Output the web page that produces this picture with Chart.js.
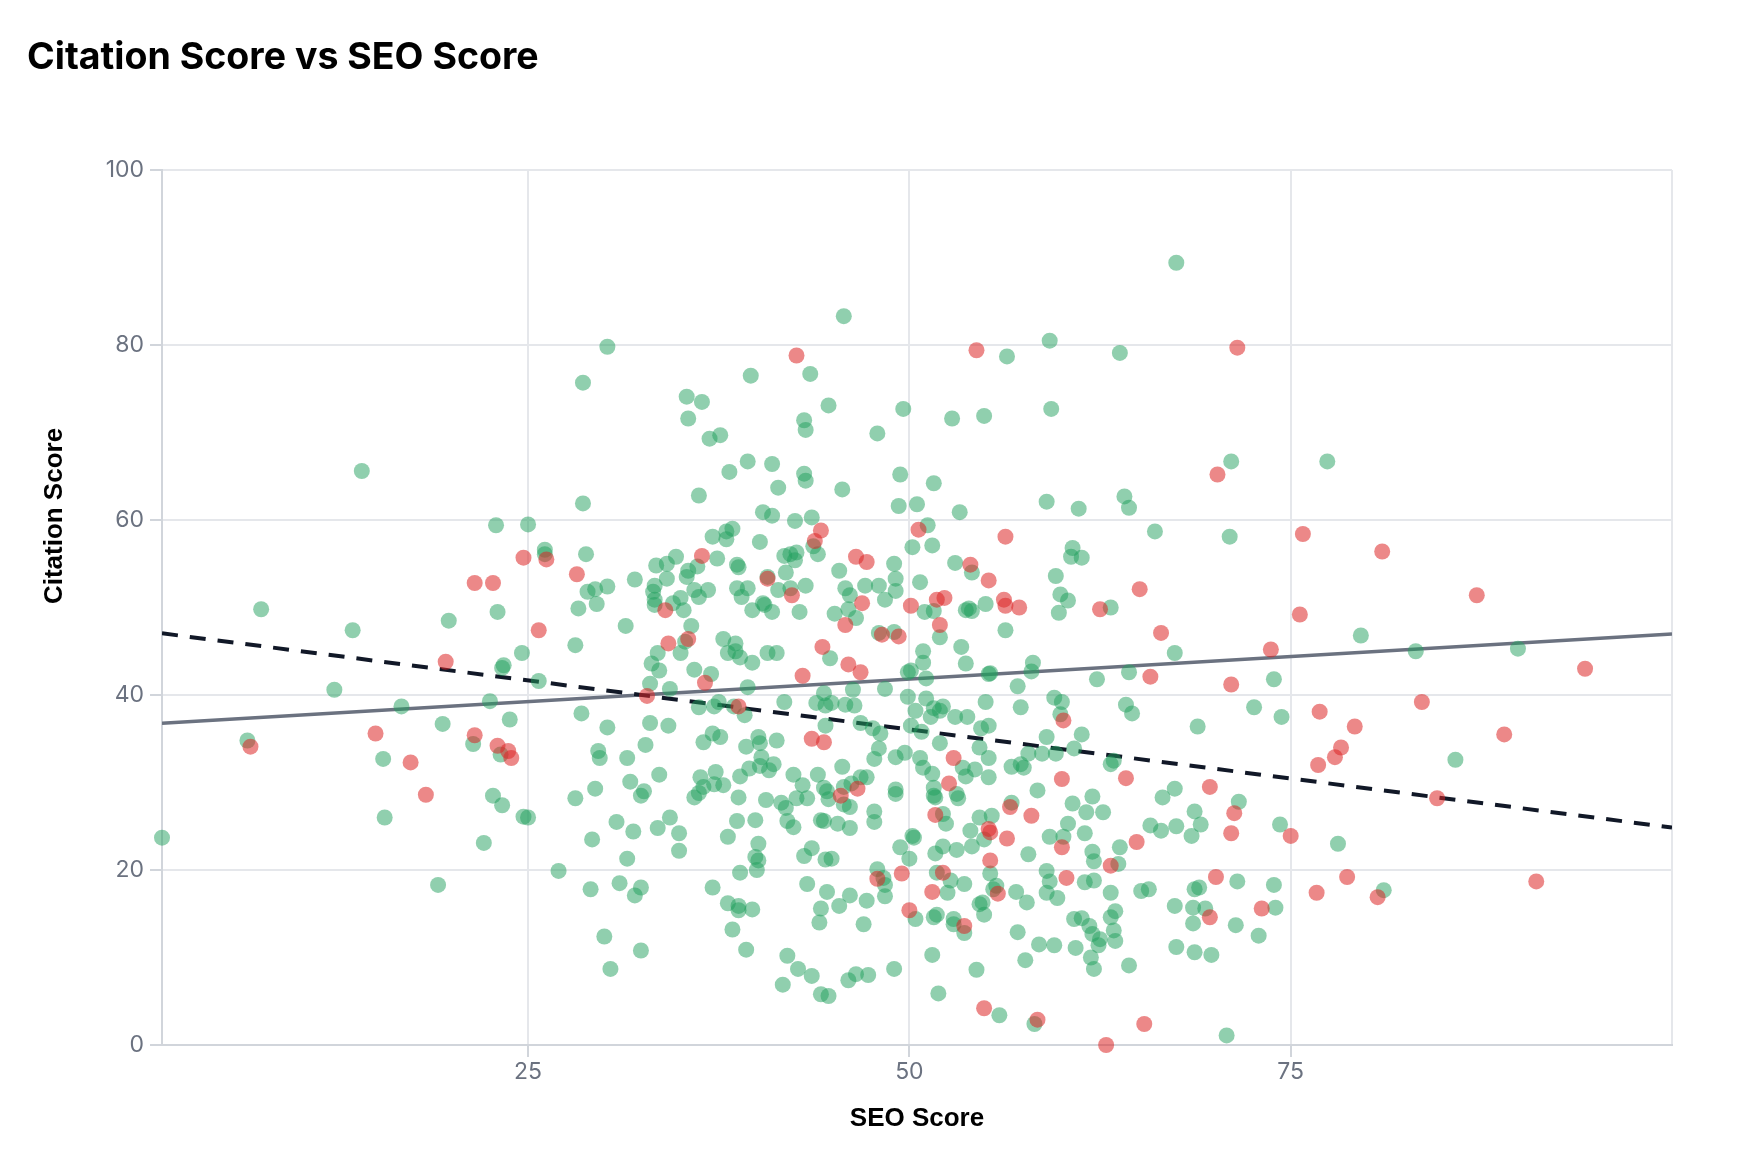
<!DOCTYPE html>
<html>
<head>
<meta charset="utf-8">
<title>Citation Score vs SEO Score</title>
<script src="https://cdn.jsdelivr.net/npm/chart.js@4.4.1/dist/chart.umd.min.js"></script>
<style>
    html, body { margin: 0; padding: 0; background: #fff; }
    #chart { display: block; }
</style>
</head>
<body>
<canvas id="chart" width="1748" height="1174"></canvas>
<script>
const chartTitle = "Citation Score vs SEO Score";
const xTitle = "SEO Score";
const yTitle = "Citation Score";

const xTickValues = [25, 50, 75, 100];
const yTickStep = 20;
const xMax = 100;
const yMin = 0;
const yMax = 100;

// [SEO score, citation score]
const greenPoints = [
    [30.2,79.8],[28.6,75.7],
    [45.7,83.3],[39.6,76.5],[43.5,76.7],[35.4,74.1],[36.4,73.5],[35.5,71.6],[44.7,73.1],[43.1,71.4],[43.2,70.3],[37.6,69.7],
    [36.9,69.3],[47.9,69.9],[49.6,72.7],[52.8,71.6],[54.9,71.9],[59.3,72.7],[56.4,78.7],[59.2,80.5],[63.8,79.1],[67.5,89.4],
    [14.1,65.6],[28.6,61.9],[22.9,59.4],[25.0,59.5],[26.1,56.6],[26.1,56.1],[28.8,56.1],[32.0,53.2],[33.4,54.8],[34.1,55.0],
    [34.1,53.3],[30.2,52.4],[29.4,52.1],[28.9,51.8],[33.3,52.5],[33.2,51.8],[33.3,50.9],[33.3,50.3],[29.5,50.4],[28.3,49.9],
    [23.0,49.5],[19.8,48.5],[7.5,49.8],[13.5,47.4],[31.4,47.9],[28.1,45.7],[24.6,44.8],[23.4,43.4],[23.3,43.1],[33.5,44.8],
    [33.1,43.6],[33.6,42.8],[25.7,41.6],[33.0,41.3],[34.3,40.7],[34.2,36.5],[12.3,40.6],[16.7,38.7],[22.5,39.3],[23.8,37.2],
    [19.4,36.7],[28.5,37.9],[30.2,36.3],[33.0,36.8],[32.7,34.3],[6.6,34.8],[21.4,34.4],[29.6,33.6],
    [39.4,66.7],[41.0,66.4],[38.2,65.5],[43.1,65.3],[43.2,64.5],[36.2,62.8],[41.4,63.7],[45.6,63.5],[49.4,65.2],[51.6,64.2],
    [49.3,61.6],[50.5,61.8],[53.3,60.9],[59.0,62.1],[61.1,61.3],[64.1,62.7],[64.4,61.4],[40.4,60.9],[41.0,60.5],[42.5,59.9],
    [43.6,60.3],[66.1,58.7],[43.7,57.0],[44.0,56.1],[51.2,59.4],[50.2,56.9],[51.5,57.1],[60.7,56.8],[60.6,55.8],[61.3,55.7],
    [38.4,59.0],[38.0,58.7],[38.0,57.8],[37.1,58.1],[40.2,57.5],[34.7,55.8],[37.4,55.6],[38.7,54.9],[38.8,54.6],[36.1,54.7],
    [35.5,54.2],[35.4,53.5],[41.8,55.9],[42.2,56.1],[42.6,56.3],[42.5,55.4],[41.9,54.0],[40.7,53.5],[45.4,54.2],[49.0,55.0],
    [49.1,53.3],[53.0,55.1],[54.1,54.0],[59.6,53.6],[35.9,52.0],[36.2,51.2],[36.8,52.0],[35.0,51.1],[34.5,50.5],[35.2,49.7],
    [38.7,52.2],[39.4,52.2],[39.0,51.2],[40.4,50.5],[40.5,50.3],[39.7,49.7],[41.0,49.5],[41.4,52.0],[42.2,52.2],[43.2,52.5],
    [42.8,49.5],[45.8,52.2],[46.1,51.4],[47.1,52.5],[48.0,52.5],[49.1,51.9],[48.4,50.9],[46.0,49.8],[45.1,49.3],[46.5,48.8],
    [50.7,52.9],[51.0,49.5],[51.6,49.6],[52.0,46.6],[53.7,49.7],[54.1,49.6],[53.9,49.9],[55.0,50.4],[56.3,47.4],[59.9,51.5],
    [60.4,50.8],[59.8,49.4],[63.2,50.0],[67.4,44.8],[35.7,47.9],[35.3,46.1],[35.0,44.8],[37.8,46.4],[38.6,45.9],[38.1,44.8],
    [38.6,45.0],[38.9,44.3],[39.7,43.7],[40.7,44.8],[41.3,44.8],[44.8,44.2],[48.0,47.1],[49.0,47.2],[50.9,45.0],[50.9,43.7],
    [53.4,45.5],[53.7,43.6],[35.9,42.9],[37.0,42.4],[39.4,40.9],[49.9,42.6],[50.1,42.8],[51.1,41.9],[55.2,42.4],[55.3,42.5],
    [58.1,43.7],[58.0,42.7],[57.1,41.0],[62.3,41.8],[64.4,42.6],[46.3,40.6],[48.4,40.7],[36.2,38.6],[37.2,38.7],[37.5,39.2],
    [38.5,38.7],[39.2,37.7],[41.8,39.2],[43.9,39.1],[44.4,40.2],[44.5,38.8],[44.9,39.1],[45.8,38.9],[46.4,38.8],[49.9,39.8],
    [51.1,39.6],[50.4,38.2],[51.6,38.5],[51.4,37.5],[52.0,38.2],[52.2,38.7],[53.0,37.5],[53.8,37.5],[55.0,39.2],[57.3,38.6],
    [59.5,39.7],[60.0,39.2],[59.9,37.8],[64.2,38.9],[64.6,37.9],[46.8,36.8],[47.6,36.2],[48.1,35.6],[44.5,36.5],[50.1,36.5],
    [50.8,35.8],[54.7,36.2],[55.2,36.5],[59.0,35.2],[61.3,35.5],[37.1,35.6],[37.6,35.2],[36.5,34.6],[40.1,35.2],[40.2,34.5],
    [39.3,34.1],[41.3,34.8],[52.0,34.5],[54.6,34.0],[60.8,33.9],[48.0,33.9],
    [71.1,66.7],[77.4,66.7],[71.0,58.1],[79.6,46.8],[83.2,45.0],[89.9,45.3],[73.9,41.8],[72.6,38.6],[74.4,37.5],[68.9,36.4],
    [15.5,32.7],[15.6,26.0],[1.0,23.7],[22.1,23.1],[22.7,28.5],[23.3,27.4],[24.7,26.1],[25.0,26.0],[23.2,33.2],[27.0,19.9],
    [19.1,18.3],[28.1,28.2],[29.4,29.3],[29.7,32.8],[31.5,32.8],[31.7,30.1],[32.6,29.0],[32.4,28.5],[33.6,30.9],[30.8,25.5],
    [31.9,24.4],[33.5,24.8],[29.2,23.5],[31.5,21.3],[29.1,17.8],[31.0,18.5],[32.4,18.0],[32.0,17.1],[30.0,12.4],[32.4,10.8],
    [30.4,8.7],
    [39.5,31.6],[40.3,32.9],[40.2,31.9],[41.1,32.1],[40.8,31.4],[37.3,31.2],[36.3,30.6],[38.9,30.7],[36.5,29.5],[37.8,29.7],
    [37.2,29.8],[35.9,28.3],[36.2,28.8],[38.8,28.3],[34.3,26.0],[34.9,24.2],[34.9,22.2],[38.7,25.6],[39.9,25.7],[38.1,23.8],
    [40.1,23.0],[39.9,21.5],[40.1,21.1],[40.0,20.0],[38.9,19.7],[37.1,18.0],[38.1,16.2],[38.8,15.9],[38.8,15.4],[39.7,15.5],
    [38.4,13.2],[39.3,10.9],[40.6,28.0],[41.6,27.7],[41.9,27.1],[42.4,30.9],[43.0,29.7],[42.6,28.2],[43.3,28.2],[42.0,25.6],
    [42.4,24.9],[44.0,30.9],[44.4,29.4],[44.6,29.0],[44.7,28.1],[45.6,31.8],[45.7,29.5],[46.2,29.9],[46.8,30.6],[47.2,30.6],
    [45.7,27.5],[46.1,27.2],[44.2,25.7],[44.4,25.6],[45.3,25.3],[46.1,24.8],[47.7,26.7],[47.7,25.5],[47.7,32.7],[49.1,32.9],
    [49.7,33.4],[49.1,29.2],[49.1,28.7],[43.6,22.5],[43.1,21.6],[44.5,21.2],[44.9,21.3],[43.3,18.4],[44.6,17.5],[46.1,17.1],
    [44.2,15.6],[45.4,15.9],[44.1,14.0],[47.2,16.5],[47.0,13.8],[47.9,20.1],[48.3,19.1],[48.4,18.3],[48.4,17.0],[49.4,22.6],
    [50.2,23.9],[50.3,23.7],[50.0,21.3],[42.0,10.2],[42.7,8.7],[43.6,7.9],[41.7,6.9],[44.2,5.8],[44.7,5.6],[46.0,7.4],
    [46.5,8.1],[47.3,8.0],[49.0,8.7],[50.4,14.4],[50.7,32.8],[50.9,31.7],[51.5,31.0],[51.6,29.4],[51.6,28.5],[51.7,28.3],
    [53.1,28.7],[53.2,28.2],[53.5,31.7],[53.7,30.7],[54.3,31.5],[55.2,32.8],[55.2,30.6],[52.2,26.4],[52.4,25.3],[51.7,21.9],
    [52.2,22.7],[53.1,22.3],[51.8,19.7],[52.7,18.8],[52.5,17.4],[53.6,18.4],[51.6,14.6],[51.8,14.9],[52.9,14.4],[52.9,13.8],
    [53.6,12.8],[51.5,10.3],[54.4,8.6],[51.9,5.9],[55.9,3.4],[58.2,2.4],[54.0,24.5],[54.1,22.7],[54.6,26.0],[55.4,26.2],
    [54.9,23.5],[55.3,19.6],[55.7,18.2],[55.5,17.8],[54.6,16.1],[54.8,16.3],[54.9,14.9],[56.7,27.7],[58.4,29.1],[56.7,31.8],
    [57.3,32.1],[57.5,31.7],[57.8,33.3],[58.7,33.3],[59.6,33.3],[63.4,32.5],[63.2,32.1],[60.7,27.6],[61.6,26.6],[62.0,28.4],
    [62.7,26.6],[60.4,25.3],[59.2,23.8],[60.1,23.8],[61.5,24.2],[57.8,21.8],[62.0,22.1],[62.1,21.0],[63.8,22.6],[63.7,20.7],
    [65.8,25.1],[66.5,24.5],[66.6,28.3],[67.5,25.0],[59.0,19.9],[59.2,18.7],[59.0,17.4],[59.7,16.8],[61.5,18.6],[62.1,18.8],
    [63.2,17.4],[57.0,17.5],[57.7,16.3],[57.1,12.9],[58.5,11.5],[59.5,11.4],[57.6,9.7],[60.9,11.1],[60.8,14.4],[61.3,14.5],
    [61.8,13.6],[62.0,12.7],[62.5,12.1],[62.4,11.4],[61.9,10.0],[62.1,8.7],[63.2,14.6],[63.5,15.3],[63.4,13.1],[63.5,11.9],
    [64.4,9.1],[65.2,17.6],[65.7,17.8],[67.4,15.9],[67.5,11.2],[67.4,29.3],
    [85.8,32.6],[71.6,27.8],[68.7,26.7],[69.1,25.2],[68.5,23.9],[74.3,25.2],[78.1,23.0],[71.5,18.7],[73.9,18.3],[68.7,17.8],
    [69.0,18.0],[68.6,15.7],[69.4,15.6],[68.6,13.9],[71.4,13.7],[74.0,15.7],[72.9,12.5],[68.7,10.6],[69.8,10.3],[70.8,1.1],
    [81.1,17.7]
];

const redPoints = [
    [42.6,78.8],[54.4,79.4],[71.5,79.7],
    [26.2,55.5],[24.7,55.7],[28.2,53.8],[21.5,52.8],[22.7,52.8],[34.0,49.7],[25.7,47.4],[19.6,43.8],[34.2,45.9],
    [32.8,39.9],[15.0,35.6],[6.8,34.1],[21.5,35.4],[23.0,34.2],[23.7,33.6],
    [44.2,58.8],[43.8,57.6],[50.6,58.9],[56.3,58.1],[36.4,55.9],[40.7,53.3],[46.5,55.8],[47.2,55.2],[54.0,54.9],[55.2,53.1],
    [42.3,51.4],[46.9,50.5],[45.8,48.0],[50.1,50.2],[51.8,50.9],[52.3,51.1],[52.0,48.0],[56.2,50.9],[56.3,50.2],[57.2,50.0],
    [62.5,49.8],[65.1,52.1],[66.5,47.1],[35.5,46.4],[44.3,45.5],[48.2,46.9],[49.3,46.7],[46.0,43.5],[46.8,42.6],[36.6,41.4],
    [43.0,42.2],[65.8,42.1],[38.8,38.7],[60.1,37.1],[43.6,35.0],[44.4,34.6],
    [70.2,65.2],[75.8,58.4],[81.0,56.4],[87.2,51.4],[75.6,49.2],[73.7,45.2],[94.3,43.0],[71.1,41.2],[83.6,39.2],[76.9,38.1],
    [79.2,36.4],[89.0,35.5],[78.3,34.0],
    [17.3,32.3],[18.3,28.6],[23.9,32.8],
    [45.5,28.5],[46.6,29.3],[47.9,19.0],[49.5,19.6],[50.0,15.4],[52.6,29.9],[52.9,32.8],[51.7,26.3],[52.2,19.7],[51.5,17.5],
    [53.6,13.6],[54.9,4.2],[58.4,2.9],[62.9,0.0],[65.4,2.4],[55.2,24.7],[55.3,24.3],[56.4,23.6],[55.3,21.1],[55.8,17.3],
    [56.6,27.2],[58.0,26.2],[60.0,30.4],[64.2,30.5],[60.0,22.6],[63.2,20.5],[64.9,23.2],[60.3,19.1],
    [76.8,32.0],[77.9,32.9],[84.6,28.2],[69.7,29.5],[71.3,26.5],[71.1,24.2],[75.0,23.9],[70.1,19.2],[69.7,14.6],[73.1,15.6],
    [78.7,19.2],[76.7,17.4],[80.7,16.9],[91.1,18.7]
];

// trend lines: [intercept, slope]
const solidTrend = [36.66, 0.1031];
const dashedTrend = [47.27, -0.2242];

const xMin = Math.min(...greenPoints.map(p => p[0]), ...redPoints.map(p => p[0]));

function toXY(list) {
    return list.map(p => ({ x: p[0], y: p[1] }));
}

function trendData(t) {
    return [xMin, xMax].map(x => ({ x: x, y: t[0] + t[1] * x }));
}

// título y títulos de ejes dibujados a mano (posiciones del original)
const textPlugin = {
    id: 'textLabels',
    afterDraw(chart) {
        const c = chart.ctx;
        const a = chart.chartArea;
        c.save();
        c.fillStyle = '#000';
        c.textBaseline = 'alphabetic';
        c.textAlign = 'left';
        c.font = 'bold 37.5px Inter, "Noto Sans", sans-serif';
        c.fillText(chartTitle, 27, 69);

        c.font = 'bold 26px "Liberation Sans", Arial, sans-serif';
        c.textAlign = 'center';
        c.fillText(xTitle, (a.left + a.right) / 2, 1126);

        c.translate(62, 516);
        c.rotate(-Math.PI / 2);
        c.fillText(yTitle, 0, 0);
        c.restore();
    }
};

Chart.defaults.font.family = 'Inter, "Noto Sans", sans-serif';

new Chart(document.getElementById('chart'), {
    type: 'scatter',
    data: {
        datasets: [
            {
                label: 'Red',
                data: toXY(redPoints),
                backgroundColor: 'rgba(220,38,38,0.55)',
                borderWidth: 0,
                pointRadius: 8,
                clip: false,
                order: 0
            },
            {
                label: 'Green',
                data: toXY(greenPoints),
                backgroundColor: 'rgba(34,160,94,0.5)',
                borderWidth: 0,
                pointRadius: 8,
                clip: false,
                order: 1
            },
            {
                type: 'line',
                label: 'Trend dashed',
                data: trendData(dashedTrend),
                borderColor: '#111827',
                borderWidth: 4,
                borderDash: [16, 12],
                pointRadius: 0,
                fill: false,
                order: 2
            },
            {
                type: 'line',
                label: 'Trend solid',
                data: trendData(solidTrend),
                borderColor: '#6b7280',
                borderWidth: 3.5,
                pointRadius: 0,
                fill: false,
                order: 3
            }
        ]
    },
    options: {
        responsive: false,
        devicePixelRatio: 1,
        animation: false,
        events: [],
        layout: { padding: { top: 170, right: 76, left: 0, bottom: 0 } },
        plugins: {
            legend: { display: false },
            tooltip: { enabled: false },
            title: { display: false }
        },
        scales: {
            x: {
                type: 'linear',
                min: xMin,
                max: xMax,
                afterBuildTicks: scale => {
                    scale.ticks = xTickValues.map(v => ({ value: v }));
                },
                afterFit: scale => { scale.height = 129; },
                ticks: {
                    color: '#6b7280',
                    font: { size: 23 },
                    padding: 1,
                    maxRotation: 0,
                    autoSkip: false,
                    callback: v => (v === xMax ? '' : v)
                },
                grid: {
                    color: '#e5e7eb',
                    lineWidth: 2,
                    tickLength: 12,
                    tickColor: ctx => (ctx.tick && ctx.tick.value === xMax ? 'rgba(0,0,0,0)' : '#d1d5db'),
                    tickWidth: 2
                },
                border: { color: '#d1d5db', width: 2 }
            },
            y: {
                type: 'linear',
                min: yMin,
                max: yMax,
                afterFit: scale => { scale.width = 162; },
                ticks: {
                    stepSize: yTickStep,
                    color: '#6b7280',
                    font: { size: 23 },
                    padding: 6
                },
                grid: {
                    color: '#e5e7eb',
                    lineWidth: 2,
                    tickLength: 12,
                    tickColor: '#d1d5db',
                    tickWidth: 2
                },
                border: { color: '#d1d5db', width: 2 }
            }
        }
    },
    plugins: [textPlugin]
});
</script>
</body>
</html>
